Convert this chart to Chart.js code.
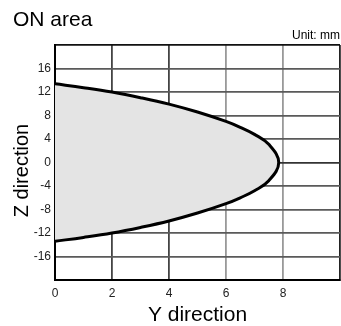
<!DOCTYPE html>
<html>
<head>
<meta charset="utf-8">
<script src="https://cdn.jsdelivr.net/npm/chart.js@4/dist/chart.umd.min.js"></script>
<style>
  html, body { margin: 0; padding: 0; background: #fff; }
  canvas { display: block; }
</style>
</head>
<body>
<canvas id="onArea" width="341" height="326"></canvas>
<script>
// Y/Z outline of the ON area (mm), traced top to bottom through the tip
const yDir = [0, 1, 2, 3, 4, 5, 6, 6.5, 7, 7.5, 7.85, 7.5, 7, 6.5, 6, 5, 4, 3, 2, 1, 0];
const zDir = [13.4, 12.75, 12.0, 11.05, 9.95, 8.6, 7.0, 6.0, 4.8, 3.1, 0, -3.1, -4.8, -6.0, -7.0, -8.6, -9.95, -11.05, -12.0, -12.75, -13.4];

const yTicks = [0, 2, 4, 6, 8];
const zTicks = [-16, -12, -8, -4, 0, 4, 8, 12, 16];

const FONT = "'Liberation Sans', Arial, sans-serif";

let points = yDir.map((y, i) => ({ x: y, y: zDir[i] }));

// vertical axis title, drawn by hand so it can sit a bit below the middle
const zTitle = {
    id: "zTitle",
    afterDraw(chart) {
        const ctx = chart.ctx;
        const area = chart.chartArea;
        ctx.save();
        ctx.translate(22, (area.top + area.bottom) / 2 + 8);
        ctx.rotate(-Math.PI / 2);
        ctx.font = "20px " + FONT;
        ctx.fillStyle = "#000";
        ctx.textAlign = "center";
        ctx.textBaseline = "middle";
        ctx.fillText("Z direction", 0, 0);
        ctx.restore();
    }
};

new Chart(document.getElementById("onArea"), {
    type: "scatter",
    data: {
        datasets: [{
            data: points,
            showLine: true,
            tension: 0.4,
            pointRadius: 0,
            borderColor: "#000",
            borderWidth: 3,
            backgroundColor: "#e4e4e4",
            fill: "shape"
        }]
    },
    plugins: [zTitle],
    options: {
        responsive: false,
        animation: false,
        layout: { padding: { left: 13, right: 1, top: 0, bottom: 0 } },
        plugins: {
            legend: { display: false },
            tooltip: { enabled: false },
            title: {
                display: true,
                text: "ON area",
                align: "start",
                color: "#000",
                font: { family: FONT, size: 21, weight: "normal", lineHeight: 1.2 },
                padding: { top: 8, bottom: 0 }
            },
            subtitle: {
                display: true,
                text: "Unit: mm",
                align: "end",
                color: "#000",
                font: { family: FONT, size: 12, weight: "normal", lineHeight: 1.2 },
                padding: { top: -4.5, bottom: 2 }
            }
        },
        scales: {
            x: {
                type: "linear",
                min: 0,
                max: 10,
                afterFit: s => {
                    s.height = 46;
                    s.paddingLeft = 0;
                    s.paddingRight = 0;
                },
                afterBuildTicks: s => { s.ticks = yTicks.concat([10]).map(v => ({ value: v })); },
                ticks: {
                    padding: 6,
                    color: "#222",
                    font: { family: FONT, size: 12 },
                    callback: v => (yTicks.includes(v) ? String(v) : "")
                },
                grid: {
                    drawTicks: false,
                    lineWidth: 1.8,
                    color: c => {
                        let v = c.tick ? c.tick.value : 0;
                        if (v === 10) return "#222";
                        return v >= 6 ? "#999" : "#444";
                    }
                },
                border: { color: "#000", width: 2 },
                title: {
                    display: true,
                    text: "Y direction",
                    color: "#000",
                    font: { family: FONT, size: 21, lineHeight: 1 },
                    padding: 0
                }
            },
            y: {
                type: "linear",
                min: -20,
                max: 20,
                afterFit: s => { s.width = 42; },
                afterBuildTicks: s => { s.ticks = [-20].concat(zTicks, [20]).map(v => ({ value: v })); },
                ticks: {
                    padding: 4,
                    color: "#222",
                    font: { family: FONT, size: 12 },
                    callback: v => (zTicks.includes(v) ? String(v) : "")
                },
                grid: {
                    drawTicks: false,
                    lineWidth: 1.8,
                    color: c => {
                        let v = c.tick ? c.tick.value : 0;
                        if (v === 20) return "#111";
                        return v === 0 ? "#333" : "#5a5a5a";
                    }
                },
                border: { color: "#000", width: 2 }
            }
        }
    }
});
</script>
</body>
</html>
